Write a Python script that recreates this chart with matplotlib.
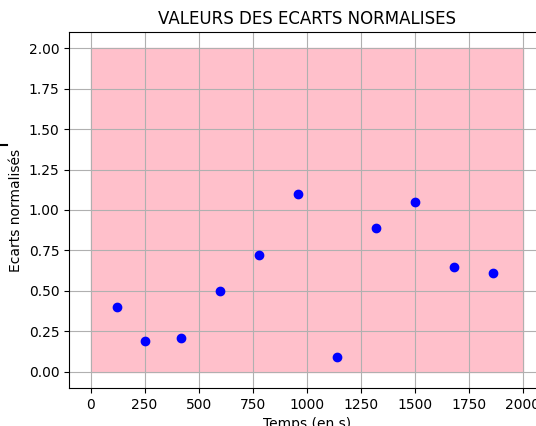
import matplotlib
matplotlib.use("Agg")
import matplotlib.pyplot as plt
from matplotlib.lines import Line2D

# Data
temps = [120, 250, 420, 600, 780, 960, 1140, 1320, 1500, 1680, 1860]
ecarts = [0.40, 0.19, 0.21, 0.50, 0.72, 1.10, 0.09, 0.89, 1.05, 0.645, 0.61]

# Zone acceptable
zone_x = [0, 2000]
zone_bas = [0, 0]
zone_haut = [2, 2]

fig = plt.figure(figsize=(5.36, 4.26), dpi=100)
# the reference is a crop: the right edge of the axes runs past the picture
ax = fig.add_axes([0.1287, 0.0892, 0.887, 0.8357])

ax.fill_between(zone_x, zone_bas, zone_haut, color="pink")
ax.plot(temps, ecarts, "o", color="blue")

ax.set_xlim(-100, 2100)
ax.set_ylim(-0.1, 2.1)
ax.set_xticks(range(0, 2001, 250))
ax.set_yticks([0, 0.25, 0.5, 0.75, 1.0, 1.25, 1.5, 1.75, 2.0])
ax.grid(True)

ax.set_title("VALEURS DES ECARTS NORMALISES")
ax.set_xlabel("Temps (en s)")
ax.set_ylabel("Ecarts normalisés")

# little black stroke at the left edge of the reference
fig.add_artist(Line2D([0, 7 / 536], [1 - 145 / 426] * 2, color="black", lw=1.5))

fig.savefig("out.png", dpi=100)
